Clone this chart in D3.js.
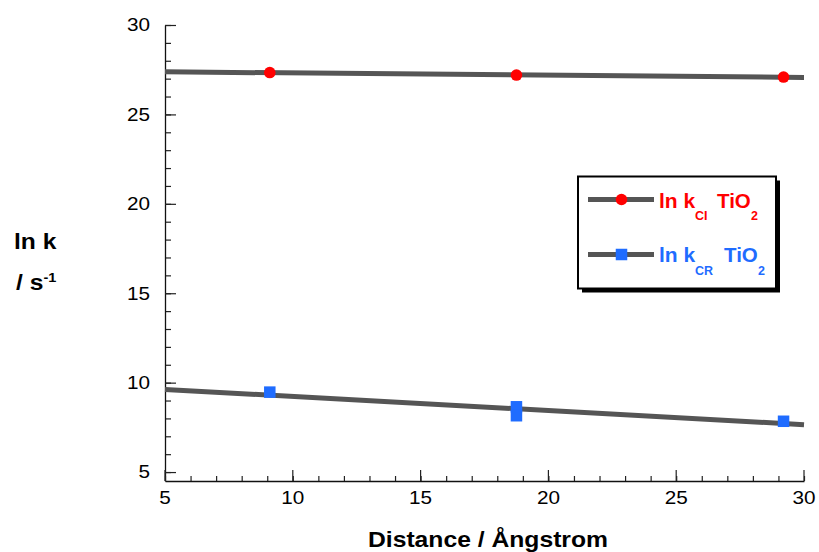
<!DOCTYPE html>
<html>
<head>
<meta charset="utf-8">
<script src="https://cdn.jsdelivr.net/npm/d3@7"></script>
<style>
  html, body { margin: 0; padding: 0; background: #fff; }
  svg { display: block; font-family: "Liberation Sans", Arial, Helvetica, sans-serif; }
</style>
</head>
<body>
<svg id="chart" width="819" height="552"></svg>
<script>
// Distance between donor and acceptor (Å)
const distances = [9.1, 18.75, 18.75, 29.2];
const distancesCI = [9.1, 18.75, 29.2];
// ln k for charge injection (CI) and charge recombination (CR)
const lnkCI = [27.34, 27.2, 27.09];
const lnkCR = [9.47, 8.65, 8.15, 7.84];
// Linear fits, evaluated at the ends of the distance range
const fitX = [5, 30];
const fitCI = [27.38, 27.07];
const fitCR = [9.62, 7.65];
// Axis ticks
const xMajor = [5, 10, 15, 20, 25, 30];
const xMinor = d3.range(5, 31, 1);
const yMajor = [5, 10, 15, 20, 25, 30];
const yMinor = d3.range(5, 31, 1);

const RED = "#ff0000";
const BLUE = "#1f6cff";
const LINE = "#555555";
const SX = 1.12; // horizontal stretch of axis text

const svg = d3.select("#chart");
const x = d3.scaleLinear().domain([5, 30]).range([165, 804]);
const y = d3.scaleLinear().domain([4.5, 30]).range([481, 25]);

// ---- axes ----
const yMinorAxis = svg.append("g").attr("transform", `translate(${x(5)},0)`)
  .call(d3.axisLeft(y).tickValues(yMinor).tickSize(-6).tickFormat(""));
yMinorAxis.select(".domain").remove();
const yAxis = svg.append("g").attr("transform", `translate(${x(5)},0)`)
  .call(d3.axisLeft(y).tickValues(yMajor).tickSize(-11).tickPadding(15).tickSizeOuter(0));

const xMinorAxis = svg.append("g").attr("transform", `translate(0,${y(4.5)})`)
  .call(d3.axisBottom(x).tickValues(xMinor).tickSize(-5).tickFormat(""));
xMinorAxis.select(".domain").remove();
const xAxis = svg.append("g").attr("transform", `translate(0,${y(4.5)})`)
  .call(d3.axisBottom(x).tickValues(xMajor).tickSize(-11).tickPadding(10).tickSizeOuter(0));

svg.selectAll(".domain").attr("stroke", "#111").attr("stroke-width", 1.3);
svg.selectAll(".tick line").attr("stroke", "#222").attr("stroke-width", 1.2);

yAxis.selectAll("text")
  .attr("font-size", 18.5).attr("font-family", "Liberation Sans, Arial, sans-serif").attr("fill", "#000")
  .attr("x", -15 / SX).attr("transform", `scale(${SX},1)`);
xAxis.selectAll("text")
  .attr("font-size", 18.5).attr("font-family", "Liberation Sans, Arial, sans-serif").attr("fill", "#000")
  .each(function () {
    // keep each label centred on its tick while widening it
    d3.select(this).attr("transform", `scale(${SX},1)`);
  });
xAxis.selectAll(".tick").each(function (d) {
  d3.select(this).attr("transform", `translate(${x(d)},0)`);
});

// ---- fit lines ----
const line = d3.line().x(d => x(d[0])).y(d => y(d[1]));
svg.append("path").datum(fitX.map((v, i) => [v, fitCI[i]]))
  .attr("d", line).attr("stroke", LINE).attr("stroke-width", 5).attr("fill", "none");
svg.append("path").datum(fitX.map((v, i) => [v, fitCR[i]]))
  .attr("d", line).attr("stroke", LINE).attr("stroke-width", 5).attr("fill", "none");

// ---- data points ----
svg.append("g").selectAll("circle").data(distancesCI.map((d, i) => [d, lnkCI[i]]))
  .join("circle")
  .attr("cx", d => x(d[0])).attr("cy", d => y(d[1])).attr("r", 5.8).attr("fill", RED);
const SQ = 11.5;
svg.append("g").selectAll("rect").data(distances.map((d, i) => [d, lnkCR[i]]))
  .join("rect")
  .attr("x", d => x(d[0]) - SQ / 2).attr("y", d => y(d[1]) - SQ / 2)
  .attr("width", SQ).attr("height", SQ).attr("fill", BLUE);

// ---- axis titles ----
const yTitle = svg.append("g").attr("font-weight", "bold").attr("fill", "#000");
yTitle.append("text").attr("transform", `translate(14,249) scale(${SX},1)`)
  .attr("font-size", 22).text("ln k");
const ys = yTitle.append("text").attr("transform", `translate(16,290) scale(${SX},1)`)
  .attr("font-size", 22);
ys.append("tspan").text("/ s");
ys.append("tspan").attr("font-size", 13).attr("dy", -8).text("-1");

svg.append("text").attr("x", 488).attr("y", 547).attr("text-anchor", "middle")
  .attr("font-size", 22).attr("font-weight", "bold").attr("fill", "#000")
  .attr("textLength", 240).attr("lengthAdjust", "spacingAndGlyphs")
  .text("Distance / Ångstrom");

// ---- legend ----
const lg = svg.append("g");
lg.append("rect").attr("x", 582).attr("y", 180.5).attr("width", 198).attr("height", 112).attr("fill", "#000");
lg.append("rect").attr("x", 578).attr("y", 176.5).attr("width", 198).attr("height", 112)
  .attr("fill", "#fff").attr("stroke", "#000").attr("stroke-width", 2);

const legendItems = [
  { color: RED, sub: "CI", shape: "circle", ly: 199.5, base: 208, subBase: 220, tiX: 717, twoX: 751 },
  { color: BLUE, sub: "CR", shape: "square", ly: 254.5, base: 262, subBase: 274.5, tiX: 724, twoX: 758 }
];
legendItems.forEach(it => {
  lg.append("line").attr("x1", 588).attr("x2", 654).attr("y1", it.ly).attr("y2", it.ly)
    .attr("stroke", LINE).attr("stroke-width", 5);
  if (it.shape === "circle") {
    lg.append("circle").attr("cx", 621.5).attr("cy", it.ly).attr("r", 5.8).attr("fill", it.color);
  } else {
    lg.append("rect").attr("x", 621.5 - SQ / 2).attr("y", it.ly - SQ / 2)
      .attr("width", SQ).attr("height", SQ).attr("fill", it.color);
  }
  const g = lg.append("g").attr("fill", it.color).attr("font-weight", "bold");
  g.append("text").attr("x", 659).attr("y", it.base).attr("font-size", 21).text("ln k");
  g.append("text").attr("x", 695).attr("y", it.subBase).attr("font-size", 12.5).text(it.sub);
  g.append("text").attr("x", it.tiX).attr("y", it.base).attr("font-size", 20.5).text("TiO");
  g.append("text").attr("x", it.twoX).attr("y", it.subBase).attr("font-size", 12.5).text("2");
});
</script>
</body>
</html>
